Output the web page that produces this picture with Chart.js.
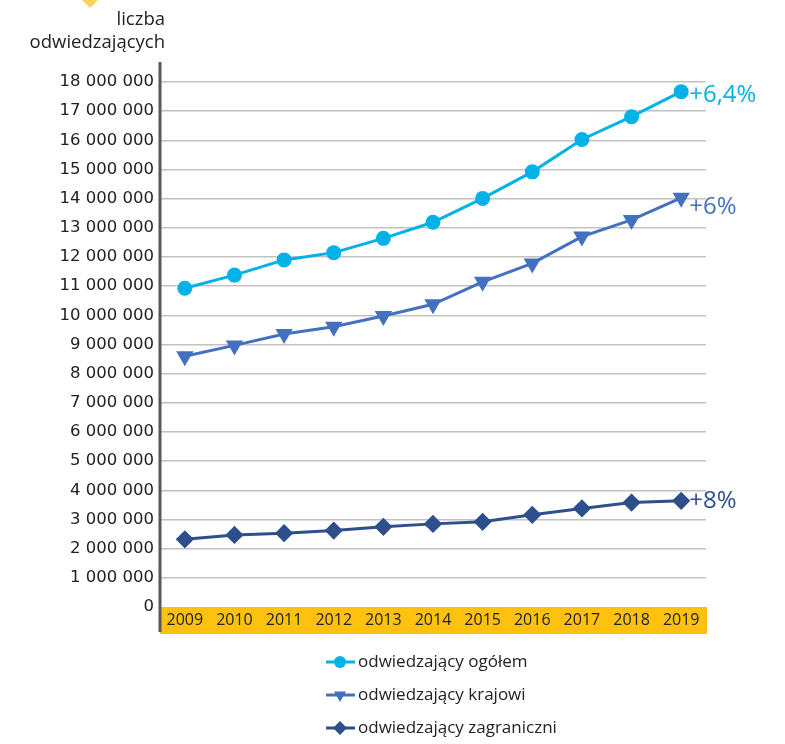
<!DOCTYPE html>
<html>
<head>
<meta charset="utf-8">
<script src="https://cdn.jsdelivr.net/npm/chart.js@4.4.1/dist/chart.umd.min.js"></script>
<style>
  html, body { margin: 0; padding: 0; background: #fff; }
  #wrap { width: 785px; height: 744px; }
</style>
</head>
<body>
<div id="wrap"><canvas id="visitorsChart" width="785" height="744"></canvas></div>
<script>
const years = ['2009', '2010', '2011', '2012', '2013', '2014', '2015', '2016', '2017', '2018', '2019'];
const totalVisitors = [10930000, 11380000, 11900000, 12150000, 12640000, 13190000, 14010000, 14920000, 16030000, 16810000, 17670000];
const domesticVisitors = [8600000, 8970000, 9360000, 9610000, 9980000, 10380000, 11150000, 11780000, 12700000, 13270000, 14030000];
const foreignVisitors = [2320000, 2470000, 2530000, 2620000, 2750000, 2850000, 2920000, 3160000, 3380000, 3580000, 3640000];
const seriesNames = ['odwiedzający ogółem', 'odwiedzający krajowi', 'odwiedzający zagraniczni'];
const growthLabels = ['+6,4%', '+6%', '+8%'];
const yMax = 18000000;
const yStep = 1000000;

const FONT = '"Open Sans", sans-serif';
const NUM_FONT = '"DejaVu Sans", sans-serif';
const TEXT = '#222222';

function spaced(v) {
  return String(v).replace(/\B(?=(\d{3})+(?!\d))/g, ' ');
}

// yellow band under the x axis, title and the small diamond at the top
const backdrop = {
  id: 'backdrop',
  beforeDraw(chart) {
    const { ctx, chartArea } = chart;
    ctx.save();
    ctx.fillStyle = '#fdc10e';
    ctx.fillRect(chartArea.left, chartArea.bottom, chartArea.right - chartArea.left + 1, 27);

    ctx.fillStyle = '#fdd35a';
    ctx.beginPath();
    ctx.moveTo(80, -2);
    ctx.lineTo(90, 8);
    ctx.lineTo(100, -2);
    ctx.lineTo(90, -12);
    ctx.closePath();
    ctx.fill();

    ctx.fillStyle = TEXT;
    ctx.font = '18.5px ' + FONT;
    ctx.textAlign = 'right';
    ctx.textBaseline = 'alphabetic';
    ctx.fillText('liczba', 165, 25);
    ctx.fillText('odwiedzających', 165, 48);
    ctx.restore();
  }
};

// axis line, end labels and the legend
const extras = {
  id: 'extras',
  afterDraw(chart) {
    const { ctx, chartArea } = chart;
    ctx.save();
    ctx.strokeStyle = '#595959';
    ctx.lineWidth = 3;
    ctx.beginPath();
    ctx.moveTo(chartArea.left, 62);
    ctx.lineTo(chartArea.left, chartArea.bottom + 25);
    ctx.stroke();

    const shifts = [4, 9, 0];
    chart.data.datasets.forEach((ds, i) => {
      const pts = chart.getDatasetMeta(i).data;
      const last = pts[pts.length - 1];
      ctx.fillStyle = ds.borderColor;
      ctx.font = '24px ' + FONT;
      ctx.textAlign = 'left';
      ctx.textBaseline = 'middle';
      ctx.fillText(growthLabels[i], last.x + 8, last.y + shifts[i]);
    });

    chart.data.datasets.forEach((ds, i) => {
      const y = 662 + i * 33;
      ctx.strokeStyle = ds.borderColor;
      ctx.lineWidth = 3;
      ctx.beginPath();
      ctx.moveTo(326, y);
      ctx.lineTo(355, y);
      ctx.stroke();
      ctx.fillStyle = ds.borderColor;
      Chart.helpers.drawPoint(ctx, {
        pointStyle: ds.pointStyle,
        rotation: ds.pointRotation || 0,
        radius: ds.pointRadius,
        borderWidth: 0
      }, 340, y);
      ctx.fillStyle = TEXT;
      ctx.font = '17px ' + FONT;
      ctx.textAlign = 'left';
      ctx.textBaseline = 'middle';
      ctx.fillText(ds.label, 358, y);
    });
    ctx.restore();
  }
};

function series(label, data, color, style, radius, rotation) {
  return {
    label: label,
    data: data,
    borderColor: color,
    backgroundColor: color,
    pointBackgroundColor: color,
    pointBorderColor: color,
    borderWidth: 3,
    pointStyle: style,
    pointRadius: radius,
    pointHoverRadius: radius,
    pointRotation: rotation,
    tension: 0,
    fill: false
  };
}

new Chart(document.getElementById('visitorsChart'), {
  type: 'line',
  data: {
    labels: years,
    datasets: [
      series(seriesNames[0], totalVisitors, '#00b2e8', 'circle', 6, 0),
      series(seriesNames[1], domesticVisitors, '#4470c0', 'triangle', 7, 180),
      series(seriesNames[2], foreignVisitors, '#2d4f8c', 'rectRot', 7, 0)
    ]
  },
  options: {
    responsive: false,
    devicePixelRatio: 1,
    animation: false,
    layout: { padding: { top: 82, right: 79, bottom: 110, left: 0 } },
    plugins: {
      legend: { display: false },
      tooltip: { enabled: false }
    },
    scales: {
      x: {
        offset: true,
        grid: { display: false, drawTicks: false },
        border: { display: false },
        ticks: { color: TEXT, font: { family: FONT, size: 16, weight: '500' }, padding: 4, maxRotation: 0 },
        afterFit(scale) { scale.height = 27; }
      },
      y: {
        min: 0,
        max: yMax,
        grid: {
          drawTicks: false,
          lineWidth: 1.5,
          color: (c) => c.tick && c.tick.value === 0 ? 'rgba(0,0,0,0)' : '#c2c2c2'
        },
        border: { display: false },
        ticks: {
          stepSize: yStep,
          color: TEXT,
          padding: 6,
          font: { family: NUM_FONT, size: 16.5 },
          callback: (v) => spaced(v)
        },
        afterFit(scale) { scale.width = 160; }
      }
    }
  },
  plugins: [backdrop, extras]
});
</script>
</body>
</html>
